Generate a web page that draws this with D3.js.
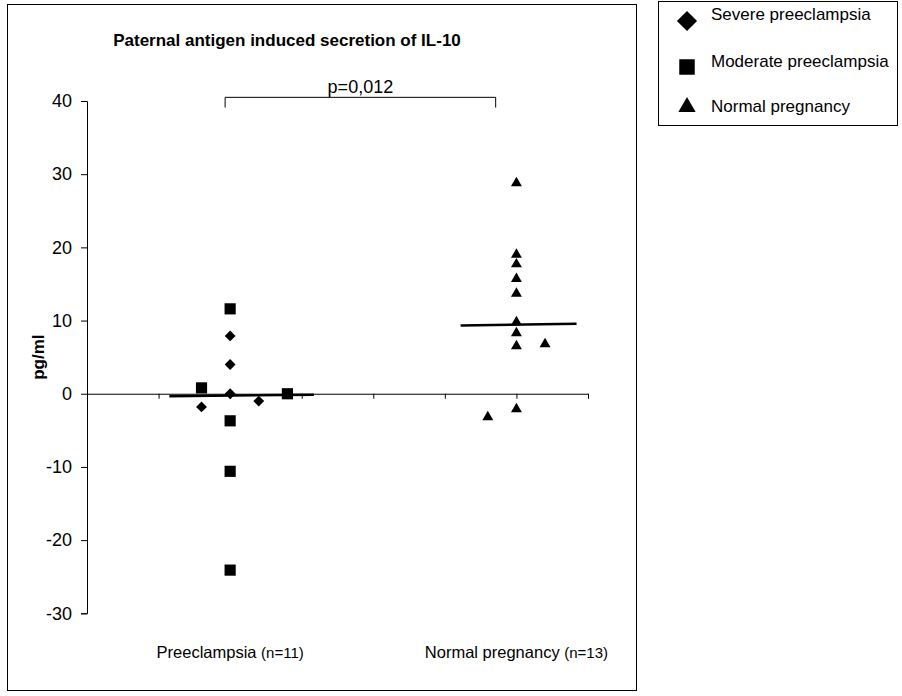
<!DOCTYPE html>
<html>
<head>
<meta charset="utf-8">
<script src="https://cdn.jsdelivr.net/npm/d3@7"></script>
<style>
  body { margin: 0; background: #fff; }
  svg text { font-family: "Liberation Sans", Arial, sans-serif; fill: #000; }
</style>
</head>
<body>
<svg id="chart" width="902" height="696"></svg>
<script>
// values (x in category units, y in pg/ml)
var severe = [
    {x: 2, y: 7.9}, {x: 2, y: 4.0}, {x: 2, y: 0.0}, {x: 1.6, y: -1.8}, {x: 2.4, y: -1.0}
];
var moderate = [
    {x: 2, y: 11.6}, {x: 1.6, y: 0.8}, {x: 2.8, y: 0.0}, {x: 2, y: -3.7}, {x: 2, y: -10.6}, {x: 2, y: -24.1}
];
var normal = [
    {x: 6, y: 28.8}, {x: 6, y: 19.0}, {x: 6, y: 17.7}, {x: 6, y: 15.7}, {x: 6, y: 13.7},
    {x: 6, y: 9.8}, {x: 6, y: 8.3}, {x: 6, y: 6.5}, {x: 6.4, y: 6.8}, {x: 6, y: -2.1}, {x: 5.6, y: -3.2}
];
var medians = [
    {x0: 1.15, x1: 3.17, y0: -0.33, y1: -0.14},
    {x0: 5.22, x1: 6.84, y0: 9.33, y1: 9.56}
];
var categories = [
    {x: 2, name: "Preeclampsia", n: "(n=11)"},
    {x: 6, name: "Normal pregnancy", n: "(n=13)"}
];
var yTicks = [-30, -20, -10, 0, 10, 20, 30, 40];
var xTicks = [1, 2, 3, 4, 5, 6, 7];
var legendItems = [
    {label: "Severe preeclampsia", shape: "diamond"},
    {label: "Moderate preeclampsia", shape: "square"},
    {label: "Normal pregnancy", shape: "triangle"}
];
var bracket = {x0: 1.93, x1: 5.71, top: 40.5, bottom: 39.1, text: "p=0,012"};

var svg = d3.select("#chart");

var x = d3.scaleLinear().domain([0, 7]).range([87, 588]);
var y = d3.scaleLinear().domain([-30, 40]).range([613.3, 101]);

// chart frame
svg.append("rect")
    .attr("x", 7.5).attr("y", 4.5)
    .attr("width", 629).attr("height", 686)
    .attr("fill", "none").attr("stroke", "#000");

svg.append("text")
    .attr("x", 287).attr("y", 46)
    .attr("text-anchor", "middle")
    .style("font-size", "17px").style("font-weight", "bold")
    .text("Paternal antigen induced secretion of IL-10");

// y axis (plain hyphen for negatives, like the original)
var yAxis = d3.axisLeft(y).tickValues(yTicks).tickSize(6).tickPadding(9)
    .tickFormat(function (d) { return String(d); });
var gy = svg.append("g").attr("transform", "translate(87,0)").call(yAxis);
gy.selectAll("text").style("font-size", "18px").style("font-family", "Liberation Sans, Arial, sans-serif");
gy.selectAll("path, line").attr("stroke", "#000");

// x axis along zero
var xAxis = d3.axisBottom(x).tickValues(xTicks).tickSize(5).tickSizeOuter(0).tickFormat("");
var gx = svg.append("g").attr("transform", "translate(0," + y(0) + ")").call(xAxis);
gx.selectAll("path, line").attr("stroke", "#000");

svg.append("text")
    .attr("transform", "translate(44," + y(5) + ") rotate(-90)")
    .attr("text-anchor", "middle")
    .style("font-size", "17px").style("font-weight", "bold")
    .text("pg/ml");

// category labels
var cat = svg.append("g").selectAll("text").data(categories).enter().append("text")
    .attr("x", function (d) { return x(d.x); })
    .attr("y", 658)
    .attr("text-anchor", "middle")
    .style("font-size", "16.5px");
cat.append("tspan").text(function (d) { return d.name + " "; });
cat.append("tspan").style("font-size", "15px").text(function (d) { return d.n; });

// significance bracket
svg.append("path")
    .attr("d", "M" + x(bracket.x0) + "," + y(bracket.bottom) +
               "V" + y(bracket.top) + "H" + x(bracket.x1) + "V" + y(bracket.bottom))
    .attr("fill", "none").attr("stroke", "#000");
svg.append("text")
    .attr("x", x((bracket.x0 + bracket.x1) / 2)).attr("y", 93)
    .attr("text-anchor", "middle")
    .style("font-size", "18px")
    .text(bracket.text);

// median lines
svg.append("g").selectAll("line").data(medians).enter().append("line")
    .attr("x1", function (d) { return x(d.x0); })
    .attr("x2", function (d) { return x(d.x1); })
    .attr("y1", function (d) { return y(d.y0); })
    .attr("y2", function (d) { return y(d.y1); })
    .attr("stroke", "#000").attr("stroke-width", 2.5);

var shapes = {
    diamond: d3.symbol().type(d3.symbolDiamond2).size(75),
    square: d3.symbol().type(d3.symbolSquare).size(125),
    triangle: d3.symbol().type(d3.symbolTriangle).size(52)
};
var legendShapes = {
    diamond: d3.symbol().type(d3.symbolDiamond2).size(260),
    square: d3.symbol().type(d3.symbolSquare).size(240),
    triangle: d3.symbol().type(d3.symbolTriangle).size(130)
};

function drawPoints(data, shape) {
    svg.append("g").selectAll("path").data(data).enter().append("path")
        .attr("transform", function (d) { return "translate(" + x(d.x) + "," + y(d.y) + ")"; })
        .attr("d", shapes[shape])
        .attr("fill", "#000");
}
drawPoints(severe, "diamond");
drawPoints(moderate, "square");
drawPoints(normal, "triangle");

// legend
svg.append("rect")
    .attr("x", 658.5).attr("y", 1.5)
    .attr("width", 239).attr("height", 124)
    .attr("fill", "none").attr("stroke", "#000");
var lg = svg.append("g").selectAll("g").data(legendItems).enter().append("g")
    .attr("transform", function (d, i) { return "translate(687," + [21, 67, 107][i] + ")"; });
lg.append("path")
    .attr("d", function (d) { return legendShapes[d.shape](); })
    .attr("fill", "#000");
lg.append("text")
    .attr("x", 24).attr("y", function (d, i) { return [-1, 0, 5][i]; })
    .style("font-size", "17px")
    .text(function (d) { return d.label; });
</script>
</body>
</html>
